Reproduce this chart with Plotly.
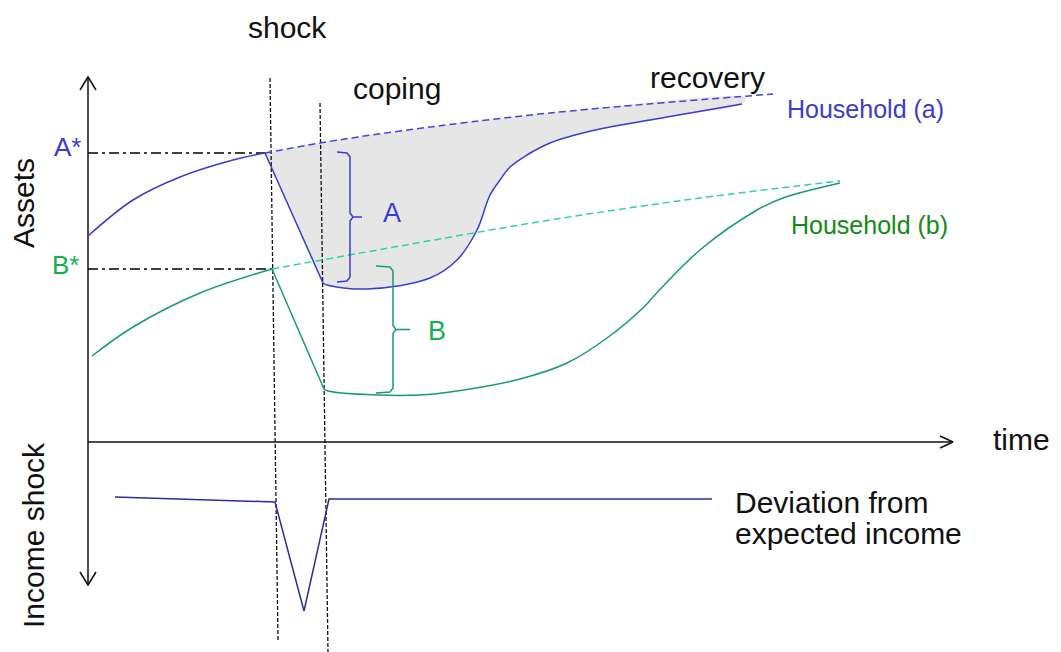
import plotly.graph_objects as go

# time positions / asset levels (screen units, y grows downwards)
a_pre_t = [88, 133, 180, 233, 265]
a_pre_v = [236, 200, 177, 160, 153]
a_drop_t = [265, 323]
a_drop_v = [153, 283]
a_post_t = [323, 327, 367, 430, 457, 477, 490, 500, 510, 527, 550, 575, 600, 667, 742]
a_post_v = [283, 285, 289, 278, 260, 230, 195, 180, 167, 155, 143, 135, 129, 117, 104]
a_trend_t = [265, 320, 400, 550, 773]
a_trend_v = [153, 143, 131, 113, 94]

b_pre_t = [92, 133, 200, 272]
b_pre_v = [356, 327, 293, 269]
b_drop_t = [272, 324]
b_drop_v = [269, 389]
b_post_t = [324, 328, 377, 420, 450, 520, 567, 607, 645, 653, 700, 757, 783, 840]
b_post_v = [389, 391, 395, 395, 392, 379, 363, 338, 306, 297, 250, 210, 198, 183]
b_trend_t = [272, 400, 550, 700, 840]
b_trend_v = [269, 246, 220, 198, 181]

inc_t = [115, 275, 304, 329, 712]
inc_v = [497, 502, 611, 499, 499]

shock_line = ([270, 278], [78, 640])
coping_line = ([320, 328], [103, 652])

BLUE = "#3b3bcf"
BLUE_D = "#4444dd"
TEAL = "#17997a"
TEAL_D = "#2fd3a6"
GREEN = "#14b050"
DKGREEN = "#138a13"
NAVY = "#2b2ba3"
INK = "#111111"
FONT = "Liberation Sans, Arial, sans-serif"
PAD = 8  # page body margin of the html

fig = go.Figure()

def line(x, y, color, width=1.5, dash="solid", shape="linear"):
    fig.add_trace(go.Scatter(x=x, y=y, mode="lines", hoverinfo="skip",
                             line=dict(color=color, width=width, dash=dash, shape=shape)))

# grey area between trend (a) and actual path (a); short extra steps at the
# corner keep the spline from bulging past the drop line
fill_x = [267, 265, 268] + a_trend_t[1:-1] + [746] + a_post_t[::-1] + [321]
fill_y = [157.5, 153, 152.5] + a_trend_v[1:-1] + [98] + a_post_v[::-1] + [279]
fill_x.append(fill_x[0])
fill_y.append(fill_y[0])
fig.add_trace(go.Scatter(x=fill_x, y=fill_y, mode="lines", fill="toself",
                         fillcolor="#e6e6e6", line=dict(width=0, shape="spline"),
                         hoverinfo="skip"))

# axes
line([88, 88], [77, 585], INK, 1.5)
line([88, 953], [442, 442], INK, 1.5)
line([80, 88, 96], [90, 77, 90], INK, 1.5)
line([80, 88, 96], [572, 585, 572], INK, 1.5)
line([940, 953, 940], [436, 442, 448], INK, 1.5)

# A*, B* reference levels
line([88, a_pre_t[-1]], [a_pre_v[-1]] * 2, "#000000", 1.4, "10px,4px,3px,4px")
line([88, b_pre_t[-1]], [b_pre_v[-1]] * 2, "#000000", 1.4, "10px,4px,3px,4px")

# shock / coping boundaries
line(*shock_line, INK, 1.3, "4px,2px")
line(*coping_line, INK, 1.3, "4px,2px")

# trends
line(a_trend_t, a_trend_v, BLUE_D, 1.5, "7px,4px", "spline")
line(b_trend_t, b_trend_v, TEAL_D, 1.5, "7px,4px", "spline")

# household paths
line(a_pre_t, a_pre_v, BLUE, 1.5, shape="spline")
line(a_drop_t, a_drop_v, BLUE, 1.5)
line(a_post_t, a_post_v, BLUE, 1.5, shape="spline")
line(b_pre_t, b_pre_v, TEAL, 1.5, shape="spline")
line(b_drop_t, b_drop_v, TEAL, 1.5)
line(b_post_t, b_post_v, TEAL, 1.5, shape="spline")

# income deviation
line(inc_t, inc_v, NAVY, 1.5)


def brace(x0, x1, top, bottom, tip, color):
    mid = (top + bottom) / 2
    fig.add_trace(go.Scatter(
        x=[x0, x1 - 3, x1, x1, x1 + 3, tip, x1 + 3, x1, x1, x1 - 3, x0],
        y=[top, top + 1, top + 5, mid - 4, mid, mid, mid, mid + 4, bottom - 5, bottom - 1, bottom],
        mode="lines", line=dict(color=color, width=1.5), hoverinfo="skip"))


brace(337, 350, 152, 282, 362, BLUE)
brace(376, 393, 266, 393, 410, TEAL)

labels = [
    ("shock", 287, 27, INK, 30),
    ("coping", 397, 88, INK, 30),
    ("recovery", 707, 77, INK, 30),
    ("time", 1021, 439, INK, 30),
    ("Household (a)", 865, 109, BLUE, 25),
    ("Household (b)", 869, 225, DKGREEN, 25),
    ("A*", 67, 147, BLUE, 26),
    ("B*", 65, 265, GREEN, 26),
    ("A", 392, 213, BLUE, 27),
    ("B", 437, 331, GREEN, 27),
]
for txt, x, y, c, s in labels:
    fig.add_annotation(x=x, y=y, text=txt, showarrow=False, xanchor="center",
                       yanchor="middle", font=dict(family=FONT, size=s, color=c))

for txt, y in [("Deviation from", 502), ("expected income", 533)]:
    fig.add_annotation(x=733, y=y, text=txt, showarrow=False, xanchor="left",
                       yanchor="middle", font=dict(family=FONT, size=30, color=INK))

fig.add_annotation(x=23, y=203, text="Assets", textangle=-90, showarrow=False,
                   font=dict(family=FONT, size=30, color=INK))
fig.add_annotation(x=33, y=535, text="Income shock", textangle=-90, showarrow=False,
                   font=dict(family=FONT, size=30, color=INK))

fig.update_layout(width=1061 - PAD, height=652 - PAD, margin=dict(l=0, r=0, t=0, b=0),
                  paper_bgcolor="white", plot_bgcolor="white", showlegend=False,
                  xaxis=dict(range=[PAD, 1061], visible=False, fixedrange=True),
                  yaxis=dict(range=[652, PAD], visible=False, fixedrange=True))

fig.write_html("out.html")
